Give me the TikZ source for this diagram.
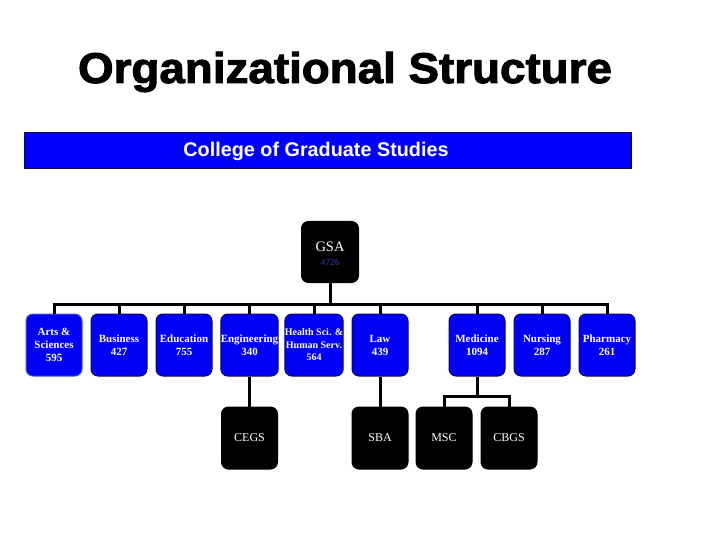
\documentclass[tikz,border=0pt]{standalone}
\usepackage{fontspec}
\setmainfont{Liberation Serif}
\newfontfamily\arialf{Liberation Sans}
\newfontfamily\arialheavy[FakeBold=2.2]{Liberation Sans Bold}
\definecolor{boxblue}{RGB}{0,0,245}
\definecolor{barblue}{RGB}{0,0,250}
\definecolor{navy}{RGB}{10,10,90}
\definecolor{numblue}{RGB}{30,45,130}
\definecolor{artsedge}{RGB}{60,90,220}
\begin{document}
\begin{tikzpicture}[x=1pt,y=-1pt,
  bluebox/.style={draw=navy,line width=1pt,fill=boxblue,rounded corners=7pt,
    minimum width=56pt,minimum height=62pt,inner sep=0pt,text=white,align=center,
    font=\fontsize{11}{13}\selectfont\bfseries},
  blackbox/.style={draw=black,line width=1pt,fill=black,rounded corners=7pt,
    minimum width=56pt,minimum height=62pt,inner sep=0pt,text=white,align=center,
    font=\fontsize{12}{14}\selectfont},
  conn/.style={draw=black,line width=3pt,line join=miter}]
\useasboundingbox (0,0) rectangle (720,540);
\fill[white] (0,0) rectangle (720,540);
% title
\node[anchor=base,inner sep=0pt,font=\arialheavy\fontsize{43}{48}\selectfont] (title) at (345,83) {\scalebox{1.064}[1]{Organizational Structure}};
% bar
\node[draw=navy,line width=0.8pt,fill=barblue,minimum width=607pt,minimum height=36pt,inner sep=0pt] (bar) at (327.5,150) {};
\node[anchor=base,inner sep=0pt,text=white,font=\arialf\bfseries\fontsize{19.8}{22}\selectfont] (college) at (316,157) {College of Graduate Studies};
% GSA
\node[blackbox,minimum width=57pt,minimum height=61pt] (gsa) at (330,252) {};
\node[anchor=base,inner sep=0pt,text=white,font=\fontsize{14.5}{16}\selectfont] (gsat) at (330,251.5) {GSA};
\node[anchor=base,inner sep=0pt,text=numblue,font=\fontsize{9.5}{11}\selectfont\bfseries] (gsan) at (330,265) {4726};
% schools
\node[bluebox,draw=artsedge] (arts) at (54,345) {Arts \&\\Sciences\\595};
\node[bluebox] (bus) at (119,345) {Business\\427};
\node[bluebox] (edu) at (184,345) {Education\\755};
\node[bluebox] (eng) at (249.5,345) {Engineering\\340};
\node[bluebox,font=\fontsize{10}{12.5}\selectfont\bfseries] (hlth) at (314,345) {Health Sci. \&\\Human Serv.\\564};
\node[bluebox] (law) at (380,345) {Law\\439};
\node[bluebox] (med) at (477,345) {Medicine\\1094};
\node[bluebox] (nurs) at (542,345) {Nursing\\287};
\node[bluebox] (phar) at (607,345) {Pharmacy\\261};
% sub units
\node[blackbox] (cegs) at (249.5,438) {CEGS};
\node[blackbox] (sba) at (380,438) {SBA};
\node[blackbox] (msc) at (444,438) {MSC};
\node[blackbox] (cbgs) at (509,438) {CBGS};
% connectors
\coordinate (busline) at (0,304);
\coordinate (medjoin) at (0,396);
\draw[conn] (gsa.south) -- (gsa.south |- busline);
\draw[conn] (arts.north) -- (arts.north |- busline) -| (phar.north);
\foreach \n in {bus,edu,eng,hlth,law,med,nurs}
  \draw[conn] (\n.north) -- (\n.north |- busline);
\draw[conn] (eng.south) -- (cegs.north);
\draw[conn] (law.south) -- (sba.north);
\draw[conn] (med.south) -- (med.south |- medjoin);
\draw[conn] (msc.north) -- (msc.north |- medjoin) -| (cbgs.north);
\end{tikzpicture}
\end{document}
